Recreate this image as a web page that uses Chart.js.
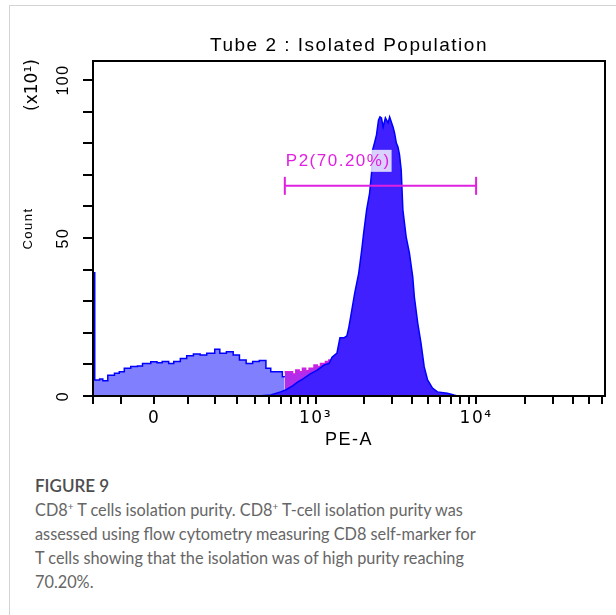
<!DOCTYPE html>
<html>
<head>
<meta charset="utf-8">
<script src="https://cdn.jsdelivr.net/npm/chart.js@4.4.1/dist/chart.umd.min.js"></script>
<style>
  html, body { margin: 0; padding: 0; background: #fff; overflow: hidden; }
  #frame { position: absolute; left: 9px; top: 5px; width: 700px; height: 700px;
           border-top: 1px solid #d4d4d4; border-left: 1px solid #d4d4d4; }
  #grafico { position: absolute; left: 0; top: 0; }
  #legenda { position: absolute; left: 35px; top: 474px; font-family: Lato, 'Open Sans', sans-serif;
             font-size: 16.3px; line-height: 24px; color: #666; white-space: nowrap; }
  #legenda b { color: #4d4d4d; font-weight: 600; font-size: 17px; }
  #legenda sup { font-size: 10px; vertical-align: 6px; line-height: 0; }
</style>
</head>
<body>
<div id="frame"></div>
<canvas id="grafico" width="616" height="460"></canvas>
<div id="legenda">
  <b>FIGURE 9</b><br>
  CD8<sup>+</sup> T cells isolation purity. CD8<sup>+</sup> T-cell isolation purity was<br>
  assessed using flow cytometry measuring CD8 self-marker for<br>
  T cells showing that the isolation was of high purity reaching<br>
  70.20%.
</div>
<script>
// histogram: PE-A value and count (x10)
var humpPE = [-200, -193, -174, -162, -144, -121, -105, -89, -69, -49, -34, -10, 8, 23, 42, 57, 77, 97, 119,
              142, 166, 197, 218, 247, 279, 311, 348, 387, 430, 477, 514, 569, 613, 634];
var humpCount = [39, 5.1, 5.4, 4.8, 6.6, 7.2, 7.7, 8.8, 9.3, 9.5, 10.3, 10.8, 10.5, 10.9, 10.3, 10.9, 11.9, 12.7, 13.3,
                 13.0, 13.5, 14.8, 13.5, 14.0, 13.0, 11.4, 10.3, 10.9, 11.2, 8.8, 7.7, 7.7, 6.1, 6.0];

var gatedPE = [634, 663, 714, 749, 787, 826, 866, 910, 978, 1025, 1075, 1155, 1213, 1271];
var gatedCount = [7.7, 7.7, 7.0, 8.2, 7.7, 8.8, 8.0, 8.8, 9.8, 9.3, 10.3, 10.9, 11.4, 12.3];

var peakPE = [421, 514, 597, 644, 714, 768, 838, 927, 1025, 1134, 1217, 1271, 1365, 1425, 1508, 1574, 1620,
              1690, 1763, 1867, 1948, 2004, 2090, 2182, 2244, 2276, 2341, 2408, 2478, 2531, 2586, 2649, 2735,
              2844, 2907, 2978, 3051, 3121, 3197, 3275, 3349, 3430, 3513, 3683, 3856, 4045, 4140, 4344, 4549,
              4767, 5001, 5366, 5760, 6633, 7281, 7669];
var peakCount = [0, 0.3, 1.3, 1.9, 3.2, 4.4, 5.5, 7.0, 8.2, 9.8, 10.3, 12.3, 13.6, 18.4, 18.4, 19.0, 21.8,
                 27.2, 32.6, 38.9, 46.2, 51.6, 58.9, 64.2, 70.6, 77.8, 80.1, 82.6, 87.3, 88.3, 88.0, 85.1, 88.0,
                 86.4, 88.3, 86.7, 85.1, 83.2, 80.1, 78.8, 76.3, 71.5, 58.9, 50.3, 45.3, 37.7, 31.3, 23.1, 16.8,
                 9.2, 5.1, 2.5, 1.3, 0.9, 0.3, 0];

// gate P2
var gatePE = [636, 10000];
var gateCount = [66.5, 66.5];
var gateLabel = 'P2(70.20%)';

// axes
var xTicks = [-200, -100, 0, 100, 200, 300, 400, 500, 600, 700, 800, 900, 1000,
              2000, 3000, 4000, 5000, 6000, 7000, 8000, 9000, 10000, 20000, 30000, 40000, 50000, 60000];
var xTickLabels = { 0: '0', 1000: '10³', 10000: '10⁴' };
var yTicks = [0, 10, 20, 30, 40, 50, 60, 70, 80, 90, 100];
var yTickLabels = [0, 50, 100];

var LARGURA_LINEAR = 202; // largura da zona linear do eixo biexponencial

// eixo biexponencial (arcsinh) como no FACSDiva
class BiexScale extends Chart.LinearScale {
    determineDataLimits() {
        this.min = this.options.min;
        this.max = this.options.max;
    }
    buildTicks() {
        return xTicks.map(function(v) { return { value: v }; });
    }
    configure() {
        super.configure();
        this._tLo = Math.asinh(this.min / LARGURA_LINEAR);
        this._tHi = Math.asinh(this.max / LARGURA_LINEAR);
    }
    getPixelForValue(value) {
        var t = Math.asinh(value / LARGURA_LINEAR);
        return this.getPixelForDecimal((t - this._tLo) / (this._tHi - this._tLo));
    }
    getValueForPixel(pixel) {
        var d = this.getDecimalForPixel(pixel);
        return LARGURA_LINEAR * Math.sinh(this._tLo + d * (this._tHi - this._tLo));
    }
}
BiexScale.id = 'biex';
BiexScale.defaults = Chart.LinearScale.defaults;
Chart.register(BiexScale);

function pontos(xs, ys) {
    return xs.map(function(x, i) { return { x: x, y: ys[i] }; });
}

// espaçamento das letras, como no original
var espacamento = {
    id: 'espacamento',
    beforeUpdate: function(chart) { chart.ctx.letterSpacing = '1.5px'; },
    beforeDraw: function(chart) { chart.ctx.letterSpacing = '1.5px'; }
};

// moldura, rótulo do gate e multiplicador do eixo y
var anotacoes = {
    id: 'anotacoes',
    afterDatasetsDraw: function(chart) {
        var ctx = chart.ctx;
        var area = chart.chartArea;
        var x = chart.scales.x, y = chart.scales.y;
        ctx.save();
        ctx.strokeStyle = '#000';
        ctx.lineWidth = 2;
        ctx.strokeRect(area.left, area.top, area.right - area.left, area.bottom - area.top);

        // rótulo do gate
        ctx.font = '17px Arial, "Liberation Sans", sans-serif';
        var gx = x.getPixelForValue(gatePE[0]);
        var gy = y.getPixelForValue(gateCount[0]);
        var w = ctx.measureText(gateLabel).width;
        ctx.fillStyle = 'rgba(255,255,255,0.8)';
        ctx.fillRect(gx, gy - 36, w + 2, 22);
        ctx.fillStyle = '#e020e0';
        ctx.textBaseline = 'middle';
        ctx.fillText(gateLabel, gx + 1, gy - 25);

        // (x10¹)
        ctx.fillStyle = '#000';
        ctx.textAlign = 'center';
        ctx.font = '17px "DejaVu Sans", sans-serif';
        ctx.letterSpacing = '0px';
        ctx.translate(33, area.top + 24);
        ctx.rotate(-Math.PI / 2);
        ctx.fillText('(x10¹)', 0, 0);
        ctx.restore();
    }
};

var ctx = document.getElementById('grafico').getContext('2d');
Chart.defaults.font.family = 'Arial, "Liberation Sans", sans-serif';
Chart.defaults.color = '#000';

new Chart(ctx, {
    type: 'line',
    data: {
        datasets: [{
            label: 'P2 gate',
            data: pontos(gatePE, gateCount),
            borderColor: '#e020e0',
            borderWidth: 2,
            pointStyle: 'line',
            rotation: 90,
            pointRadius: 9,
            pointBorderColor: '#e020e0',
            pointBorderWidth: 2,
            fill: false,
            order: 0
        }, {
            label: 'PE-A+',
            data: pontos(peakPE, peakCount),
            borderColor: '#0000ff',
            borderWidth: 1.5,
            backgroundColor: '#4020ff',
            fill: 'origin',
            pointRadius: 0,
            order: 1
        }, {
            label: 'P2',
            data: pontos(gatedPE, gatedCount),
            borderColor: '#d020e0',
            borderWidth: 1.5,
            backgroundColor: 'rgb(175,45,235)',
            fill: 'origin',
            stepped: true,
            pointRadius: 0,
            order: 2
        }, {
            label: 'PE-A-',
            data: pontos(humpPE, humpCount),
            borderColor: '#0000ff',
            borderWidth: 1.5,
            backgroundColor: '#8080ff',
            fill: 'origin',
            stepped: true,
            pointRadius: 0,
            order: 3
        }]
    },
    options: {
        responsive: false,
        animation: false,
        layout: { padding: { left: 0, right: 5, top: 0, bottom: 0 } },
        plugins: {
            legend: { display: false },
            tooltip: { enabled: false },
            title: {
                display: true,
                text: 'Tube 2 : Isolated Population',
                fullSize: false,
                font: { size: 19, weight: 'normal' },
                color: '#000',
                padding: { top: 34.6, bottom: 3.6 }
            }
        },
        scales: {
            x: {
                type: 'biex',
                min: -200,
                max: 63000,
                grid: { drawOnChartArea: false, tickLength: 8, color: '#000', lineWidth: 2 },
                border: { display: true, color: '#000', width: 2 },
                ticks: {
                    autoSkip: false,
                    maxRotation: 0,
                    padding: 4,
                    font: { size: 17, family: '"DejaVu Sans", sans-serif' },
                    callback: function(v) { return xTickLabels[v] !== undefined ? xTickLabels[v] : ''; }
                },
                title: { display: true, text: 'PE-A', font: { size: 18 }, padding: { top: 0, bottom: 9 } },
                afterFit: function(scale) { scale.height = 64; }
            },
            y: {
                type: 'linear',
                min: 0,
                max: 106,
                grid: { drawOnChartArea: false, tickLength: 10, color: '#000', lineWidth: 2 },
                border: { display: true, color: '#000', width: 2 },
                afterBuildTicks: function(scale) {
                    scale.ticks = yTicks.map(function(v) { return { value: v }; });
                },
                ticks: {
                    autoSkip: false,
                    minRotation: 90,
                    maxRotation: 90,
                    crossAlign: 'center',
                    padding: 4,
                    font: { size: 16 },
                    callback: function(v) { return yTickLabels.indexOf(v) >= 0 ? String(v) : ''; }
                },
                title: { display: true, text: 'Count', font: { size: 13 }, padding: { top: 21, bottom: 0 } },
                afterFit: function(scale) { scale.width = 93; }
            }
        }
    },
    plugins: [espacamento, anotacoes]
});
</script>
</body>
</html>
